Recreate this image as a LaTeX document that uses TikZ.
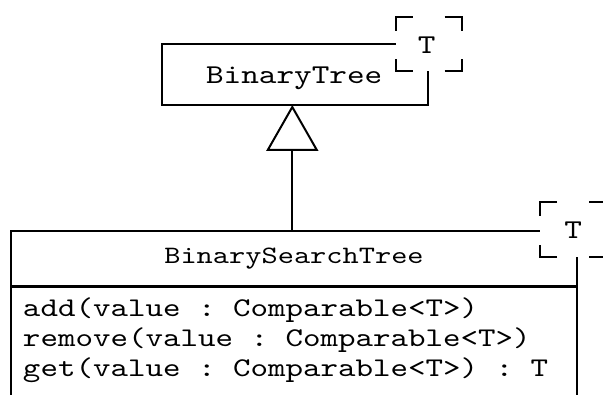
\documentclass[tikz,border=0pt]{standalone}
\usepackage{fontspec}
\newfontfamily\umlmono{lmmono10-regular}[Extension=.otf,FakeStretch=1.235]
\usetikzlibrary{arrows.meta,calc}
\begin{document}
\frenchspacing
\begin{tikzpicture}[x=1pt,y=-1pt,line width=2pt,
  classbox/.style={draw,line width=2pt,inner sep=0pt,outer sep=0pt},
  tplbox/.style={fill=white,inner sep=0pt,outer sep=0pt,minimum width=66pt,minimum height=54.5pt},
  nametxt/.style={inner sep=0pt,anchor=base,font=\umlmono\frenchspacing\fontsize{27.2}{33}\selectfont},
  membertxt/.style={inner sep=0pt,anchor=base west,font=\umlmono\frenchspacing\fontsize{27}{33}\selectfont},
  corner/.style={line width=2pt},
  inherit/.style={line width=2pt,-{Triangle[open,length=46pt,width=52pt,line width=2pt]}}]
\useasboundingbox (0,0) rectangle (603,395);
\clip (0,0) rectangle (603,395);
% top class
\node[classbox,minimum width=266pt,minimum height=60.5pt] (bt) at (294.7,74.75) {};
\node[nametxt] (btname) at (294.2,83.3) {BinaryTree};
% bottom class
\node[classbox,minimum width=566.5pt,minimum height=56.3pt] (bst) at (293.75,258.85) {};
\node[classbox,minimum width=566.5pt,minimum height=133pt] (bstm) at (293.75,353.5) {};
\draw[line width=3pt] (bst.south west) -- (bst.south east);
\node[nametxt,font=\umlmono\fontsize{25}{31}\selectfont] (bstname) at (294,263.3) {BinarySearchTree};
\node[membertxt] (m1) at (22,316.7) {add(value : Comparable<T>)};
\node[membertxt] (m2) at (22,347) {remove(value : Comparable<T>)};
\node[membertxt] (m3) at (22,377) {get(value : Comparable<T>) : T};
% generalization
\coordinate (ax) at (292.3,0);
\draw[inherit] (bst.north -| ax) -- (bt.south -| ax);
% template boxes
\foreach \n/\cx/\cy/\tx/\ty in {tplA/428.7/43.85/426.7/53.3, tplB/573/229.35/573.3/238.3}{
  \node[tplbox] (\n) at (\cx,\cy) {};
  \draw[corner] ($(\n.north west)+(17,0)$) -- (\n.north west) -- ($(\n.north west)+(0,14)$);
  \draw[corner] ($(\n.north east)+(-17,0)$) -- (\n.north east) -- ($(\n.north east)+(0,14)$);
  \draw[corner] ($(\n.south west)+(17,0)$) -- (\n.south west) -- ($(\n.south west)+(0,-12)$);
  \draw[corner] ($(\n.south east)+(-17,0)$) -- (\n.south east) -- ($(\n.south east)+(0,-12)$);
  \node[nametxt] (\n T) at (\tx,\ty) {T};
}
\end{tikzpicture}
\end{document}
